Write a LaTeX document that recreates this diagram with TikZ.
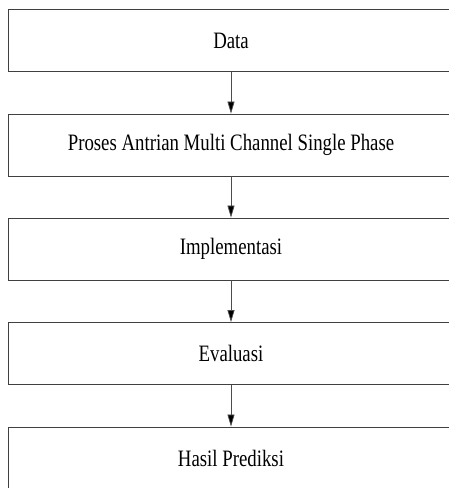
\documentclass[tikz,border=0pt]{standalone}
\usepackage{fontspec}
\setmainfont{Liberation Serif}
\usetikzlibrary{arrows.meta}
\begin{document}
\begin{tikzpicture}[x=1pt,y=-1pt,
  stepbox/.style={draw=black!75,line width=0.9pt,minimum width=445pt,minimum height=62pt,inner sep=0pt,
    font=\fontsize{23.5}{26}\selectfont},
  flow/.style={draw=black!70,line width=0.7pt,-{Triangle[length=12pt,width=7pt,fill=black]}}]
\useasboundingbox (0,0) rectangle (449,488);
\node[stepbox] (a) at (231,40.5) {\scalebox{0.8}[1]{Data}};
\node[stepbox] (b) at (231,145) {\scalebox{0.8}[1]{Proses Antrian Multi Channel Single Phase}};
\node[stepbox] (c) at (231,249) {\scalebox{0.8}[1]{Implementasi}};
\node[stepbox] (d) at (231,353.5) {\scalebox{0.8}[1]{Evaluasi}};
\node[stepbox] (e) at (231,458) {\scalebox{0.8}[1]{Hasil Prediksi}};
\draw[flow] (a) -- (b);
\draw[flow] (b) -- (c);
\draw[flow] (c) -- (d);
\draw[flow] (d) -- (e);
\end{tikzpicture}
\end{document}
